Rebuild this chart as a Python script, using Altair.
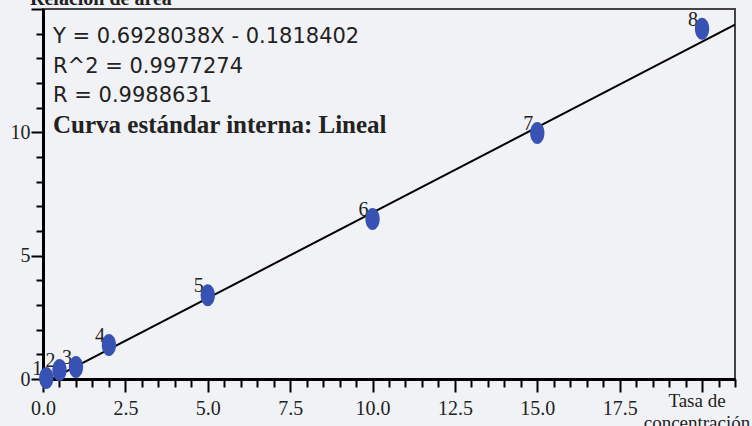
import altair as alt
import pandas as pd

# ---- data ----
pt_labels = ["1", "2", "3", "4", "5", "6", "7", "8"]
conc = [0.1, 0.5, 1.0, 2.0, 5.0, 10.0, 15.0, 20.0]
ratio = [0.04, 0.36, 0.49, 1.38, 3.40, 6.49, 9.97, 14.2]

slope = 0.6928038
intercept = -0.1818402
line_x = [0.0, 21.0]

x_ticks = [i * 0.5 for i in range(0, 43)]
y_ticks = list(range(0, 16))

eq_lines = ["Y = 0.6928038X - 0.1818402", "R^2 = 0.9977274", "R = 0.9988631"]
method_line = "Curva estándar interna: Lineal"
y_title = "Relación de área"
x_title = ["Tasa de", "concentración"]

BG = "#f1f2f5"
DOT = "#3852b4"
INK = "#222222"
SERIF = "Liberation Serif"

pts = pd.DataFrame({"conc": conc, "ratio": ratio, "lab": pt_labels})
fit = pd.DataFrame({"x": line_x})

xscale = alt.Scale(domain=[0, 21], nice=False, zero=False)
yscale = alt.Scale(domain=[0, 15], nice=False, zero=False)

xaxis = alt.Axis(
    values=x_ticks, title=None, grid=False, labelOverlap=False, labelFlush=False,
    labelExpr="datum.value % 2.5 === 0 && datum.value < 20 ? format(datum.value, '.1f') : ''",
    tickSize={"condition": {"test": "datum.value % 2.5 === 0", "value": 13}, "value": 8},
    tickWidth=2, tickColor="black", domainColor="black", domainWidth=3,
    labelFont=SERIF, labelFontSize=20, labelColor=INK, labelPadding=6,
)
yaxis = alt.Axis(
    values=y_ticks, title=None, grid=False, labelOverlap=False, labelFlush=False,
    labelExpr="datum.value % 5 === 0 && datum.value < 15 ? datum.value : ''",
    tickSize={"condition": {"test": "datum.value % 5 === 0", "value": 12}, "value": 7},
    tickWidth=2, tickColor="black", domainColor="black", domainWidth=3,
    labelFont=SERIF, labelFontSize=20, labelColor=INK, labelPadding=1,
)

X = lambda f: alt.X(f, scale=xscale, axis=xaxis)
Y = lambda f: alt.Y(f, scale=yscale, axis=yaxis)

line = alt.Chart(fit).transform_calculate(
    y=f"{slope} * datum.x + ({intercept})"
).mark_line(color="black", strokeWidth=2, clip=True).encode(
    x=X("x:Q"), y=Y("y:Q"),
)

labels = alt.Chart(pts).mark_text(
    font=SERIF, fontSize=20, color=INK, dx=-9, dy=-9, baseline="middle", align="center"
).encode(x=X("conc:Q"), y=Y("ratio:Q"), text="lab:N")

ellipse = "M -0.65 0 A 0.65 1 0 1 0 0.65 0 A 0.65 1 0 1 0 -0.65 0 Z"
dots = alt.Chart(pts).mark_point(
    shape=ellipse, filled=True, size=484, color=DOT, opacity=1, clip=False
).encode(x=X("conc:Q"), y=Y("ratio:Q"))

def txt(s, x, y, font, size, weight="normal", align="left"):
    return alt.Chart(pd.DataFrame({"t": [s]})).mark_text(
        font=font, fontSize=size, fontWeight=weight, color=INK,
        align=align, baseline="alphabetic"
    ).encode(x=alt.value(x), y=alt.value(y), text="t:N")

eq_y = [34, 64, 93]
ann = [txt(s, 10, yy, "DejaVu Sans", 21) for s, yy in zip(eq_lines, eq_y)]
ann.append(txt(method_line, 10, 124, SERIF, 25, "bold"))
ann.append(txt(y_title, -13, -4, SERIF, 20, "bold"))
ann.append(txt(x_title[0], 654, 398, SERIF, 19, align="center"))
ann.append(txt(x_title[1], 654, 420, SERIF, 19, align="center"))

chart = alt.layer(line, labels, dots, *ann).properties(
    width=692, height=370,
    autosize=alt.AutoSizeParams(type="none"),
    padding={"left": 43, "top": 9, "right": 17, "bottom": 47},
    background=BG,
).configure_view(stroke="#444444", strokeWidth=2, fill=BG)

chart.save("out.html", embed_options={"renderer": "svg", "actions": False})
